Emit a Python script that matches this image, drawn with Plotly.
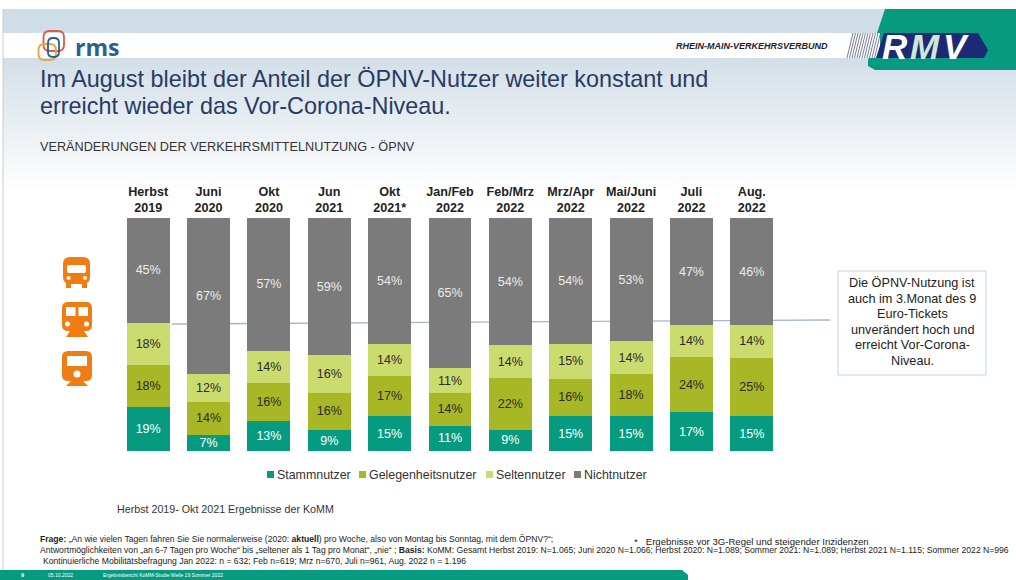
import plotly.graph_objects as go

categories = ["Herbst<br>2019", "Juni<br>2020", "Okt<br>2020", "Jun<br>2021", "Okt<br>2021*", "Jan/Feb<br>2022",
              "Feb/Mrz<br>2022", "Mrz/Apr<br>2022", "Mai/Juni<br>2022", "Juli<br>2022", "Aug.<br>2022"]
stammnutzer = [19, 7, 13, 9, 15, 11, 9, 15, 15, 17, 15]
gelegenheitsnutzer = [18, 14, 16, 16, 17, 14, 22, 16, 18, 24, 25]
seltennutzer = [18, 12, 14, 16, 14, 11, 14, 15, 14, 14, 14]
nichtnutzer = [45, 67, 57, 59, 54, 65, 54, 54, 53, 47, 46]
box_lines = ["Die ÖPNV-Nutzung ist", "auch im 3.Monat des 9", "Euro-Tickets", "unverändert hoch und",
             "erreicht Vor-Corona-", "Niveau."]

W, H = 1016, 580
FONT = "Liberation Sans"


def X(x):
    return x / W


def Y(y):
    return 1 - y / H


def rect(x0, y0, x1, y1, color, layer="below", line=None, lw=1):
    return dict(type="rect", xref="paper", yref="paper", x0=X(x0), x1=X(x1), y0=Y(y0), y1=Y(y1),
                fillcolor=color, layer=layer,
                line=dict(color=line, width=lw) if line else dict(width=0))


def path(points, color, layer="above", line=None, lw=1, close=True):
    d = "M " + " L ".join(f"{X(a):.5f},{Y(b):.5f}" for a, b in points) + (" Z" if close else "")
    return dict(type="path", xref="paper", yref="paper", path=d, fillcolor=color if close else None,
                layer=layer, line=dict(color=line, width=lw) if line else dict(width=0))


def rrect(x0, y0, x1, y1, r, color, layer="above", line=None, lw=1):
    d = (f"M {X(x0 + r):.5f},{Y(y0):.5f} L {X(x1 - r):.5f},{Y(y0):.5f} "
         f"Q {X(x1):.5f},{Y(y0):.5f} {X(x1):.5f},{Y(y0 + r):.5f} L {X(x1):.5f},{Y(y1 - r):.5f} "
         f"Q {X(x1):.5f},{Y(y1):.5f} {X(x1 - r):.5f},{Y(y1):.5f} L {X(x0 + r):.5f},{Y(y1):.5f} "
         f"Q {X(x0):.5f},{Y(y1):.5f} {X(x0):.5f},{Y(y1 - r):.5f} L {X(x0):.5f},{Y(y0 + r):.5f} "
         f"Q {X(x0):.5f},{Y(y0):.5f} {X(x0 + r):.5f},{Y(y0):.5f} Z")
    return dict(type="path", xref="paper", yref="paper", path=d, fillcolor=color, layer=layer,
                line=dict(color=line, width=lw) if line else dict(width=0))


def circle(cx, cy, r, color):
    return dict(type="circle", xref="paper", yref="paper", x0=X(cx - r), x1=X(cx + r), y0=Y(cy - r), y1=Y(cy + r),
                fillcolor=color, line=dict(width=0), layer="above")


shapes = []
# Page background
shapes.append(rect(3, 9, W, H, "#ffffff"))
shapes.append(rect(3, 9, W, 33, "#cfdde6"))
top, bottom = (0xd3, 0xdf, 0xe8), (0xff, 0xff, 0xff)
steps = 34
for i in range(steps):
    t = i / (steps - 1)
    c = tuple(round(a + (b - a) * t) for a, b in zip(top, bottom))
    shapes.append(rect(3, 58 + i * 4, W, 58 + (i + 1) * 4, "rgb(%d,%d,%d)" % c))
shapes.append(dict(type="line", xref="paper", yref="paper", x0=X(3), x1=X(3), y0=Y(9), y1=Y(580),
                   line=dict(color="#c8ccd0", width=1), layer="below"))

# Connector line behind the bars
shapes.append(path([(172, 324), (830, 320)], None, layer="below", line="#a5b8c8", lw=1.3, close=False))

# RMV logo
shapes.append(path([(885, 9), (1016, 9), (1016, 70), (875, 70), (868, 66), (868, 60)], "#069b80"))
shapes.append(rect(840, 33, 880, 58, "#ffffff", layer="above"))
for i in range(12):
    xb = 847 + i * 2.5
    shapes.append(path([(xb + 6, 33), (xb, 58)], None, line="#59607a", lw=0.8, close=False))
shapes.append(path([(884, 33), (978, 33), (988, 50), (984, 58), (876, 58)], "#1c2a76"))

# rms logo
shapes.append(rrect(43.5, 31, 64, 51, 6, "rgba(0,0,0,0)", line="#e05a47", lw=1.8))
shapes.append(rrect(38.5, 44, 56, 60, 6, "rgba(0,0,0,0)", line="#f0a33c", lw=1.8))
shapes.append(rrect(48, 38, 59, 57, 5, "rgba(0,0,0,0)", line="#27618f", lw=1.8))

# Orange vehicle icons
ORANGE = "#f07d14"
shapes += [
    rrect(63, 257, 90, 284, 7, ORANGE),
    rect(66, 283, 71, 288, ORANGE, layer="above"),
    rect(82, 283, 87, 288, ORANGE, layer="above"),
    rrect(67, 265, 86, 273, 2, "#ffffff"),
    circle(68.5, 278, 2, "#ffffff"),
    circle(85, 278, 2, "#ffffff"),
    rrect(62, 302, 92, 331, 6, ORANGE),
    path([(70, 331), (84, 331), (88, 337), (66, 337)], ORANGE),
    rect(66, 307, 75.5, 316, "#ffffff", layer="above"),
    rect(78.5, 307, 88, 316, "#ffffff", layer="above"),
    circle(67.5, 324, 2.5, "#ffffff"),
    circle(86.5, 324, 2.5, "#ffffff"),
    rrect(62, 351, 92, 381, 6, ORANGE),
    path([(71, 381), (83, 381), (88, 386), (66, 386)], ORANGE),
    rect(67, 356, 87, 366, "#ffffff", layer="above"),
    circle(77, 374, 3.5, "#ffffff"),
]

# Text box frame and footer band
shapes.append(rect(838, 271, 986, 375, "#ffffff", layer="above", line="#c5d2de", lw=1))
shapes.append(path([(0, 580), (0, 570), (682, 570), (688, 575), (688, 580)], "#069b80"))


def text(x, y, s, size, color="#222222", anchor="left", bold=False, italic=False, family=FONT):
    if bold:
        s = f"<b>{s}</b>"
    if italic:
        s = f"<i>{s}</i>"
    return dict(x=X(x), y=Y(y), xref="paper", yref="paper", text=s, showarrow=False, xanchor=anchor, yanchor="middle",
                align=anchor, font=dict(size=size, color=color, family=family),
                borderpad=0, borderwidth=0)


annotations = [
    text(40, 78.5, "Im August bleibt der Anteil der ÖPNV-Nutzer weiter konstant und", 23.4, "#2a3a66"),
    text(40, 106, "erreicht wieder das Vor-Corona-Niveau.", 23.4, "#2a3a66"),
    text(40, 147, "VERÄNDERUNGEN DER VERKEHRSMITTELNUTZUNG - ÖPNV", 12.7, "#333333"),
    text(75, 47, "rms", 23, "#27618f", bold=True, family="Open Sans"),
    text(676, 46, "RHEIN-MAIN-VERKEHRSVERBUND", 9, "#1c2333", bold=True, italic=True),
    text(895, 46, "R", 35, "#ffffff", anchor="center", bold=True, italic=True),
    text(925, 46, "M", 35, "#cfe6da", anchor="center", bold=True, italic=True),
    text(956, 46, "V", 35, "#ffffff", anchor="center", bold=True, italic=True),
    text(117, 509, "Herbst 2019- Okt 2021 Ergebnisse der KoMM", 10.7, "#333333"),
    text(40, 538.5, "<b>Frage:</b> „An wie vielen Tagen fahren Sie Sie normalerweise (2020: <b>aktuell</b>) pro Woche, "
                    "also von Montag bis Sonntag, mit dem ÖPNV?“;", 8.6, "#222222"),
    text(634, 541, "*   Ergebnisse vor 3G-Regel und steigender Inzidenzen", 9.6, "#222222"),
    text(40, 549.5, "Antwortmöglichkeiten von „an 6-7 Tagen pro Woche“ bis „seltener als 1 Tag pro Monat“, „nie“ ; "
                    "<b>Basis:</b> KoMM: Gesamt Herbst 2019: N=1.065; Juni 2020 N=1.066; Herbst 2020: N=1.089; "
                    "Sommer 2021: N=1.089; Herbst 2021 N=1.115; Sommer 2022 N=996", 8.6, "#222222"),
    text(43, 561, "Kontinuierliche Mobilitätsbefragung Jan 2022: n = 632; Feb n=619; Mrz n=670, Juli n=961, "
                  "Aug. 2022 n = 1.196", 8.6, "#222222"),
    text(21, 575, "9", 5.5, "#ffffff", bold=True),
    text(48, 575, "05.10.2022", 5, "#ffffff"),
    text(103, 575, "Ergebnisbericht KoMM-Studie Welle 19 Sommer 2022", 5, "#ffffff"),
]
for i, line in enumerate(box_lines):
    annotations.append(text(912, 283 + i * 15.6, line, 12.7, "#222222", anchor="center"))

fig = go.Figure()
series = [
    ("Stammnutzer", stammnutzer, "#069b80", "#ffffff"),
    ("Gelegenheitsnutzer", gelegenheitsnutzer, "#a8b725", "#2a2a2a"),
    ("Seltennutzer", seltennutzer, "#ccdb6e", "#2a2a2a"),
    ("Nichtnutzer", nichtnutzer, "#7b7b7b", "#ececec"),
]
for name, values, color, tcolor in series:
    fig.add_trace(go.Bar(
        x=categories, y=values, name=name, marker=dict(color=color, line=dict(width=0)),
        text=[f"{v}%" for v in values], textposition="inside", insidetextanchor="middle", textangle=0,
        constraintext="none", textfont=dict(size=12.5, color=tcolor, family=FONT), hoverinfo="skip", cliponaxis=False,
    ))

# Compact legend row
legend_pos = [(267, 277), (359, 369), (486, 496), (574, 584)]
for (sx, tx), (name, _, color, _) in zip(legend_pos, series):
    shapes.append(rect(sx, 471, sx + 7, 478, color, layer="above"))
    annotations.append(text(tx, 474.5, name, 12.4, "#333333"))

fig.update_layout(
    width=W, height=H, autosize=False,
    margin=dict(l=0, r=0, t=0, b=0, pad=0),
    paper_bgcolor="#ffffff", plot_bgcolor="rgba(0,0,0,0)",
    barmode="stack", barnorm="percent", bargap=0.29,
    font=dict(family=FONT, color="#222222"),
    xaxis=dict(domain=[118 / W, 782 / W], side="top", type="category", categoryorder="array", categoryarray=categories,
               range=[-0.5, 10.5], showgrid=False, showline=False, ticks="", automargin=False,
               tickfont=dict(size=12.6, color="#222222", family=FONT), tickprefix="<b>", ticksuffix="</b>",
               ticklabelstandoff=2, tickangle=0),
    yaxis=dict(domain=[1 - 451 / H, 1 - 218 / H], range=[0, 100], visible=False, automargin=False),
    showlegend=False,
    shapes=shapes, annotations=annotations,
)
fig.write_html("out.html", config=dict(displayModeBar=False),
               post_script="document.body.style.margin='0';document.documentElement.style.overflow='hidden';")
